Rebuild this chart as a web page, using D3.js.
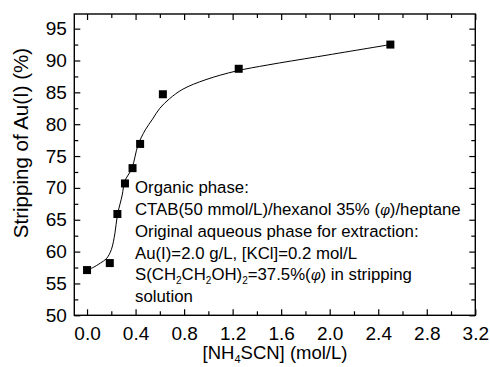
<!DOCTYPE html>
<html>
<head>
<meta charset="utf-8">
<script src="https://cdn.jsdelivr.net/npm/d3@7"></script>
<style>
body { margin: 0; background: #fff; }
svg { font-family: "Liberation Sans", Arial, sans-serif; }
</style>
</head>
<body>
<svg width="490" height="367"></svg>
<script>
// measured points
var concX = [0, 0.1875, 0.25, 0.3125, 0.375, 0.4375, 0.625, 1.25, 2.5]
var stripY = [57.1, 58.2, 65.9, 70.7, 73.1, 76.9, 84.7, 88.7, 92.5]

// fitted curve
var fitX = [0, 0.05, 0.11, 0.16, 0.2, 0.23, 0.25, 0.29, 0.31, 0.37, 0.42, 0.48, 0.54, 0.6, 0.68, 0.79, 0.98, 1.23, 1.49, 1.9, 2.5]
var fitY = [57.1, 57.5, 58.2, 58.9, 60.3, 62.9, 65.7, 68.9, 71.0, 73.1, 76.7, 79.1, 80.8, 82.5, 84.0, 85.5, 87.0, 88.35, 89.3, 90.6, 92.5]

var xTicks = [0, 0.4, 0.8, 1.2, 1.6, 2.0, 2.4, 2.8, 3.2]
var xMinor = [0.2, 0.6, 1.0, 1.4, 1.8, 2.2, 2.6, 3.0]
var yTicks = [50, 55, 60, 65, 70, 75, 80, 85, 90, 95]
var yMinor = [52.5, 57.5, 62.5, 67.5, 72.5, 77.5, 82.5, 87.5, 92.5]

function draw() {
var svg = d3.select('svg')
var pl = 74.3, pr = 475.3, pt = 14, pb = 315.3

var x = d3.scaleLinear().domain([-0.105, 3.2]).range([pl, pr])
var y = d3.scaleLinear().domain([50, 97.3]).range([pb, pt])

function styleAxis(g) {
    g.select('.domain').remove()
    g.selectAll('line').attr('stroke', '#000').attr('stroke-width', 1.2)
    g.selectAll('text').attr('fill', '#000').style('font-size', '19px')
}

// bottom
svg.append('g').attr('transform', 'translate(0,' + pb + ')')
    .call(d3.axisBottom(x).tickValues(xTicks).tickSize(-6).tickPadding(11).tickFormat(d3.format('.1f')))
    .call(styleAxis)
svg.append('g').attr('transform', 'translate(0,' + pb + ')')
    .call(d3.axisBottom(x).tickValues(xMinor).tickSize(-4).tickFormat(''))
    .call(styleAxis)
// top
svg.append('g').attr('transform', 'translate(0,' + pt + ')')
    .call(d3.axisTop(x).tickValues(xTicks).tickSize(-6).tickFormat(''))
    .call(styleAxis)
svg.append('g').attr('transform', 'translate(0,' + pt + ')')
    .call(d3.axisTop(x).tickValues(xMinor).tickSize(-4).tickFormat(''))
    .call(styleAxis)
// left
svg.append('g').attr('transform', 'translate(' + pl + ',0)')
    .call(d3.axisLeft(y).tickValues(yTicks).tickSize(-6).tickPadding(7.5))
    .call(styleAxis)
svg.append('g').attr('transform', 'translate(' + pl + ',0)')
    .call(d3.axisLeft(y).tickValues(yMinor).tickSize(-4).tickFormat(''))
    .call(styleAxis)
// right
svg.append('g').attr('transform', 'translate(' + pr + ',0)')
    .call(d3.axisRight(y).tickValues(yTicks).tickSize(-6).tickFormat(''))
    .call(styleAxis)
svg.append('g').attr('transform', 'translate(' + pr + ',0)')
    .call(d3.axisRight(y).tickValues(yMinor).tickSize(-4).tickFormat(''))
    .call(styleAxis)

// frame
svg.append('rect')
    .attr('x', pl).attr('y', pt)
    .attr('width', pr - pl).attr('height', pb - pt)
    .attr('fill', 'none').attr('stroke', '#000').attr('stroke-width', 1.4)

// fit line
var line = d3.line()
    .x(function(d, i) { return x(fitX[i]) })
    .y(function(d, i) { return y(fitY[i]) })
    .curve(d3.curveCatmullRom.alpha(0.5))
svg.append('path')
    .attr('d', line(fitX))
    .attr('fill', 'none').attr('stroke', '#000').attr('stroke-width', 1)

// squares
svg.selectAll('rect.pt')
    .data(concX)
    .enter().append('rect')
    .attr('class', 'pt')
    .attr('x', function(d) { return x(d) - 4 })
    .attr('y', function(d, i) { return y(stripY[i]) - 4 })
    .attr('width', 8).attr('height', 8)
    .attr('fill', '#000')

// axis titles
var xt = svg.append('text')
    .attr('x', 275).attr('y', 359)
    .attr('text-anchor', 'middle')
    .style('font-size', '18.5px')
xt.append('tspan').text('[NH')
xt.append('tspan').text('4').style('font-size', '11px').attr('dy', 4)
xt.append('tspan').text('SCN] (mol/L)').attr('dy', -4)

svg.append('text')
    .attr('transform', 'translate(28,143) rotate(-90)')
    .attr('text-anchor', 'middle')
    .style('font-size', '20.5px')
    .text('Stripping of Au(I) (%)')

// annotation
var note = svg.append('g').style('font-size', '16.8px')
var lx = 135
note.append('text').attr('x', lx).attr('y', 193).text('Organic phase:')
var t2 = note.append('text').attr('x', lx).attr('y', 215)
t2.append('tspan').text('CTAB(50 mmol/L)/hexanol 35% (')
t2.append('tspan').text('φ').style('font-style', 'italic').style('font-family', 'DejaVu Serif').style('font-size', '14px')
t2.append('tspan').text(')/heptane')
note.append('text').attr('x', lx).attr('y', 237).text('Original aqueous phase for extraction:')
note.append('text').attr('x', lx).attr('y', 259).text('Au(I)=2.0 g/L, [KCl]=0.2 mol/L')
var t5 = note.append('text').attr('x', lx).attr('y', 280)
t5.append('tspan').text('S(CH')
t5.append('tspan').text('2').style('font-size', '10px').attr('dy', 4)
t5.append('tspan').text('CH').attr('dy', -4)
t5.append('tspan').text('2').style('font-size', '10px').attr('dy', 4)
t5.append('tspan').text('OH)').attr('dy', -4)
t5.append('tspan').text('2').style('font-size', '10px').attr('dy', 4)
t5.append('tspan').text('=37.5%(').attr('dy', -4)
t5.append('tspan').text('φ').style('font-style', 'italic').style('font-family', 'DejaVu Serif').style('font-size', '14px')
t5.append('tspan').text(') in stripping')
note.append('text').attr('x', lx).attr('y', 302).text('solution')
}

draw()
</script>
</body>
</html>
